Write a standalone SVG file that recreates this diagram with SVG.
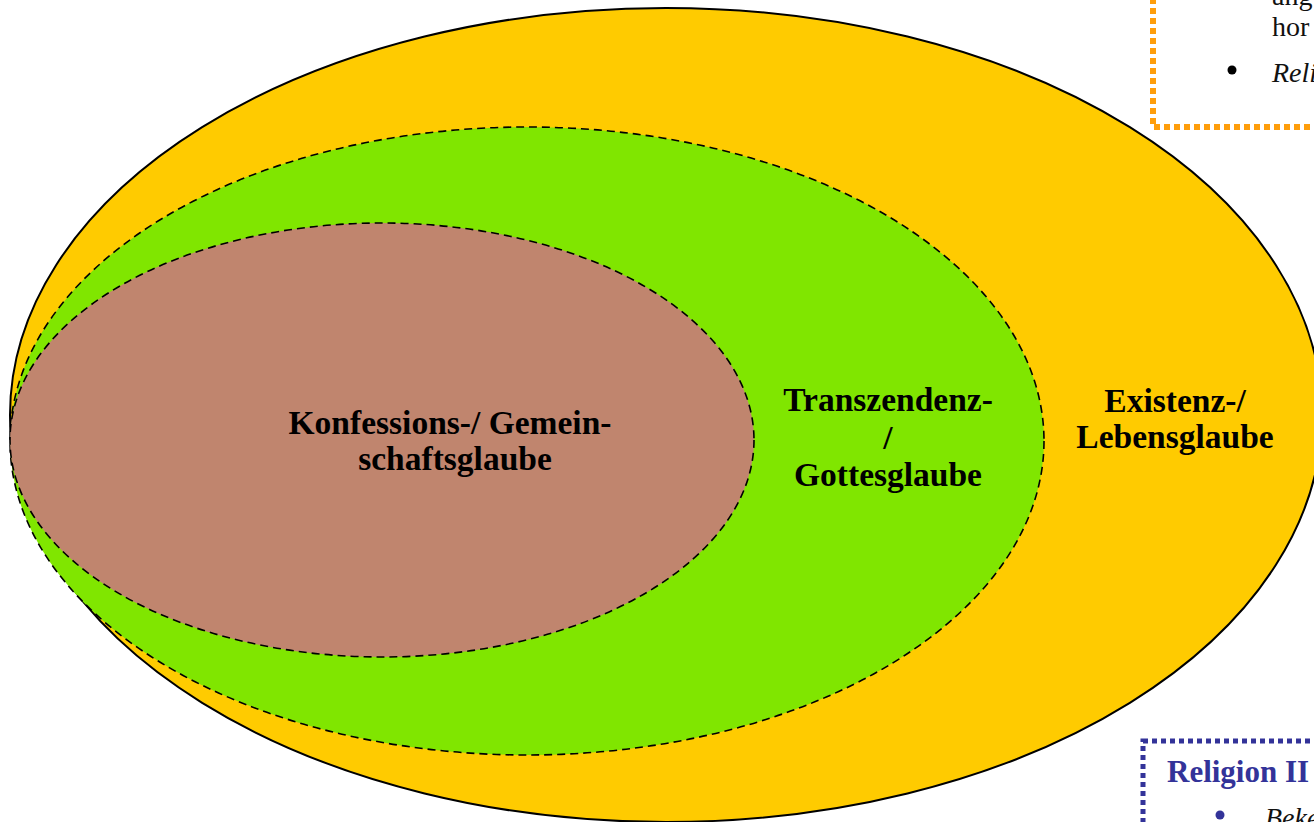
<svg xmlns="http://www.w3.org/2000/svg" width="1314" height="822" viewBox="0 0 1314 822">
  <style>
    .lbl { font-family: "Liberation Serif", "Times New Roman", serif; font-weight: bold; font-size: 33.5px; fill: #000; text-anchor: middle; }
    .dash { stroke: #000; stroke-width: 1.6; stroke-dasharray: 8 5; }
    .body { font-family: "Liberation Serif", "Times New Roman", serif; font-size: 28px; fill: #111; }
  </style>
  <rect x="0" y="0" width="1314" height="822" fill="#ffffff"/>
  <g id="existenz">
    <ellipse cx="666" cy="415" rx="656" ry="407" fill="#FFCB00" stroke="#000" stroke-width="2"/>
    <text class="lbl" x="1175" y="412">Existenz-/</text>
    <text class="lbl" x="1175" y="448">Lebensglaube</text>
  </g>
  <g id="transzendenz">
    <ellipse cx="527" cy="441" rx="517" ry="314" fill="#80E600" class="dash"/>
    <text class="lbl" x="888" y="411">Transzendenz-</text>
    <text class="lbl" x="888" y="449">/</text>
    <text class="lbl" x="888" y="486">Gottesglaube</text>
  </g>
  <g id="konfession">
    <ellipse cx="382" cy="440" rx="372" ry="217" fill="#C0856E" class="dash"/>
    <text class="lbl" x="450" y="434">Konfessions-/ Gemein-</text>
    <text class="lbl" x="455" y="470">schaftsglaube</text>
  </g>
  <g id="box-top">
    <rect x="1153" y="-20" width="200" height="147" fill="#ffffff" stroke="#FF9E0B" stroke-width="6" stroke-dasharray="6 4"/>
    <text class="body" x="1272" y="5">ang</text>
    <text class="body" x="1272" y="36">hor</text>
    <circle cx="1232" cy="70" r="4.5" fill="#000"/>
    <text class="body" x="1272" y="82" font-style="italic">Reli</text>
  </g>
  <g id="box-bottom">
    <rect x="1143" y="741" width="200" height="120" fill="#ffffff" stroke="#333399" stroke-width="5" stroke-dasharray="5 4"/>
    <text x="1167" y="782" font-family="Liberation Serif, Times New Roman, serif" font-weight="bold" font-size="31" fill="#333399">Religion II</text>
    <circle cx="1220" cy="815" r="4.5" fill="#333399"/>
    <text class="body" x="1265" y="827" font-style="italic">Beke</text>
  </g>
  <g id="connectors"/>
</svg>
